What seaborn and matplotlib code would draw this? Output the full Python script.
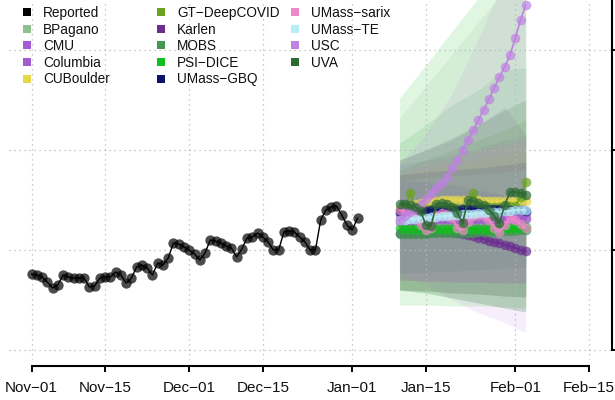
import numpy as np
import pandas as pd
import matplotlib
matplotlib.use("Agg")
import matplotlib.pyplot as plt
import matplotlib.dates as mdates
from matplotlib.lines import Line2D
import seaborn as sns

sns.set_theme(style="white")
plt.rcParams["font.family"] = ["Liberation Sans", "DejaVu Sans"]

# ---------------- data ----------------
reported = [76, 75, 73, 68, 62, 65, 75, 73, 72, 72,
            72, 63, 64, 72, 73, 73, 78, 75, 67, 72,
            83, 85, 82, 75, 87, 85, 92, 107, 106, 103,
            100, 96, 90, 97, 110, 109, 107, 104, 102, 93,
            101, 112, 113, 117, 113, 108, 100, 100, 118, 119,
            118, 113, 108, 100, 100, 130, 140, 143, 144, 135,
            125, 120, 132]
reported_start = "2020-11-01"
forecast_start = "2021-01-10"
band_days = ["2021-01-10", "2021-01-15", "2021-01-20", "2021-01-25", "2021-01-30", "2021-02-03"]

models = ["BPagano", "CMU", "Columbia", "CUBoulder", "GT−DeepCOVID", "Karlen", "MOBS",
          "PSI−DICE", "UMass−GBQ", "UMass−sarix", "UMass−TE", "USC", "UVA"]
model_colors = ["#8fbf8f", "#a55bd6", "#a259d2", "#e5d84b", "#69a320", "#6b2d91", "#3f9a4f",
                "#10bf1d", "#0c1270", "#ee88c9", "#b7eef6", "#be82e1", "#2d6a33"]

med_bpagano = [132, 132, 132, 133, 133, 133, 133, 133, 133, 133, 133, 133, 133,
               133, 133, 133, 133, 133, 133, 133, 133, 133, 133, 133, 133]
med_cmu = [136, 136, 136, 136, 136, 136, 137, 137, 137, 137, 137, 137, 137,
           137, 137, 137, 137, 137, 137, 137, 137, 137, 137, 137, 137]
med_columbia = [128, 129, 129, 130, 130, 130, 131, 131, 131, 131, 131, 131, 131,
                131, 131, 131, 131, 131, 131, 131, 131, 131, 131, 131, 131]
med_cuboulder = [140, 142, 144, 146, 147, 148, 149, 149, 150, 150, 150, 150, 150,
                 150, 150, 150, 149, 149, 149, 149, 149, 149, 149, 149, 149]
med_gt = [141, 142, 157, 142, 141, 141, 141, 142, 142, 142, 142, 142, 142,
          142, 157, 143, 143, 143, 143, 143, 143, 144, 144, 153, 168]
med_karlen = [117, 117, 117, 117, 117, 117, 118, 118, 118, 118, 118, 117, 116,
              115, 114, 112, 111, 109, 108, 107, 105, 104, 102, 100, 99]
med_mobs = [116, 116, 116, 116, 116, 116, 117, 117, 117, 117, 117, 117, 117,
            117, 117, 118, 118, 118, 118, 118, 119, 119, 119, 120, 120]
med_psi = [122, 121, 121, 121, 121, 121, 121, 121, 121, 121, 121, 121, 121,
           121, 121, 121, 121, 121, 121, 121, 122, 122, 122, 122, 123]
med_gbq = [138, 138, 139, 139, 139, 139, 140, 140, 140, 140, 140, 140, 141,
           141, 141, 141, 141, 141, 141, 141, 140, 140, 140, 140, 139]
med_sarix = [140, 138, 136, 134, 125, 120, 122, 135, 137, 136, 132, 122, 120,
             128, 134, 135, 134, 130, 122, 118, 125, 132, 130, 126, 122]
med_te = [130, 130, 131, 131, 132, 132, 133, 133, 134, 134, 135, 135, 136,
          136, 136, 137, 137, 138, 138, 138, 139, 139, 140, 140, 140]
med_usc = [130, 134, 138, 142, 146, 151, 156, 162, 167, 173, 182, 190, 200,
           210, 220, 230, 240, 251, 262, 273, 283, 295, 312, 330, 345]
med_uva = [146, 146, 145, 143, 139, 125, 124, 146, 147, 146, 143, 137, 127,
           150, 149, 147, 145, 140, 134, 127, 145, 158, 158, 157, 155]

lo_bpagano = [60, 59, 57, 56, 54, 53];    hi_bpagano = [232, 264, 296, 328, 360, 385]
lo_cmu = [70, 69, 68, 68, 67, 67];        hi_cmu = [190, 200, 210, 225, 243, 215]
lo_columbia = [70, 69, 68, 68, 67, 67];   hi_columbia = [185, 190, 195, 202, 210, 215]
lo_cuboulder = [77, 78, 79, 80, 82, 83];  hi_cuboulder = [175, 180, 185, 190, 195, 200]
lo_gt = [60, 59, 57, 56, 54, 53];         hi_gt = [180, 190, 200, 210, 220, 230]
lo_karlen = [60, 59, 57, 56, 54, 53];     hi_karlen = [170, 168, 165, 160, 155, 150]
lo_mobs = [60, 57, 52, 47, 42, 38];       hi_mobs = [207, 225, 245, 260, 280, 282]
lo_psi = [45, 45, 44, 44, 43, 42];        hi_psi = [252, 285, 319, 352, 385, 412]
lo_gbq = [77, 78, 79, 80, 82, 83];        hi_gbq = [175, 178, 180, 182, 185, 188]
lo_sarix = [70, 69, 68, 68, 67, 67];      hi_sarix = [178, 185, 192, 200, 205, 210]
lo_te = [77, 78, 79, 80, 82, 83];         hi_te = [170, 172, 174, 176, 178, 180]
lo_usc = [77, 65, 50, 37, 27, 17];        hi_usc = [185, 215, 255, 310, 370, 430]
lo_uva = [60, 57, 52, 47, 42, 38];        hi_uva = [190, 200, 212, 225, 240, 250]

y_ticks = [0, 100, 200, 300]
x_tick_dates = ["2020-11-01", "2020-11-15", "2020-12-01", "2020-12-15",
                "2021-01-01", "2021-01-15", "2021-02-01", "2021-02-15"]
x_tick_labels = ["Nov−01", "Nov−15", "Dec−01", "Dec−15", "Jan−01", "Jan−15", "Feb−01", "Feb−15"]

medians = [med_bpagano, med_cmu, med_columbia, med_cuboulder, med_gt, med_karlen, med_mobs,
           med_psi, med_gbq, med_sarix, med_te, med_usc, med_uva]
lowers = [lo_bpagano, lo_cmu, lo_columbia, lo_cuboulder, lo_gt, lo_karlen, lo_mobs,
          lo_psi, lo_gbq, lo_sarix, lo_te, lo_usc, lo_uva]
uppers = [hi_bpagano, hi_cmu, hi_columbia, hi_cuboulder, hi_gt, hi_karlen, hi_mobs,
          hi_psi, hi_gbq, hi_sarix, hi_te, hi_usc, hi_uva]

# ---------------- figure ----------------
W, H = 615, 400
fig = plt.figure(figsize=(W / 100, H / 100), dpi=100)
ax = fig.add_axes([9 / W, 40 / H, (612 - 9) / W, 360 / H])

rep_dates = pd.date_range(reported_start, periods=len(reported), freq="D")
fc_dates = pd.date_range(forecast_start, periods=len(med_usc), freq="D")
bdates = pd.to_datetime(band_days)

# bands
for lo, hi, col in zip(lowers, uppers, model_colors):
    ax.fill_between(bdates, lo, hi, color=col, alpha=0.13, linewidth=0, zorder=1)

# reported
rep_df = pd.DataFrame({"date": rep_dates, "value": reported})
sns.lineplot(data=rep_df, x="date", y="value", color="black", lw=1.0, ax=ax, zorder=3)
sns.scatterplot(data=rep_df, x="date", y="value", color="black", s=55, alpha=0.7,
                linewidth=0, ax=ax, zorder=3)

# forecast medians
for name, med, col in zip(models, medians, model_colors):
    df = pd.DataFrame({"date": fc_dates, "value": med})
    sns.lineplot(data=df, x="date", y="value", color=col, lw=1.2, ax=ax, zorder=3)
    sns.scatterplot(data=df, x="date", y="value", color=col, s=48, alpha=0.7,
                    linewidth=0, ax=ax, zorder=3)

# axes limits
x0 = pd.Timestamp(reported_start)
ax.set_xlim(mdates.date2num(x0 - pd.Timedelta(days=4.28)),
            mdates.date2num(x0 + pd.Timedelta(days=110.4)))
ax.set_ylim(-10, 350)
ax.set_xlabel("")
ax.set_ylabel("")

# ticks
tick_nums = [mdates.date2num(pd.Timestamp(d)) for d in x_tick_dates]
ax.set_xticks(tick_nums)
ax.set_xticklabels(x_tick_labels, fontsize=11, color="#111111")
ax.set_yticks(y_ticks)
ax.yaxis.tick_right()
ax.tick_params(axis="x", bottom=True, direction="out", length=4.5, width=1.4,
               pad=6.5, colors="black", labelcolor="#111111")
ax.tick_params(axis="y", right=True, left=False, labelright=False, labelleft=False,
               direction="out", length=4, width=1.4, colors="black")

# spines
for s in ["top", "left"]:
    ax.spines[s].set_visible(False)
ax.spines["bottom"].set_position(("outward", 4))
ax.spines["bottom"].set_bounds(tick_nums[0], tick_nums[-1])
ax.spines["bottom"].set_linewidth(1.5)
ax.spines["bottom"].set_color("black")
ax.spines["right"].set_bounds(0, 350)
ax.spines["right"].set_linewidth(1.5)
ax.spines["right"].set_color("black")

# grid
ax.set_axisbelow("line")
ax.grid(True, linestyle=(0, (1, 3)), color="#b8b8b8", linewidth=0.9)

# legends (three columns)
labels = ["Reported"] + models
colors = ["black"] + model_colors
handles = [Line2D([], [], linestyle="none", marker="s", markersize=6.2,
                  markerfacecolor=c, markeredgewidth=0) for c in colors]
col_x = [20.5, 154.5, 288.5]
groups = [(0, 5), (5, 10), (10, 14)]
for (a, b), cx in zip(groups, col_x):
    leg = fig.legend(handles[a:b], labels[a:b], loc="upper left",
                     bbox_to_anchor=(cx / W, (H - 6) / H), frameon=False,
                     fontsize=9.8, handlelength=1.0, handletextpad=0.65,
                     labelspacing=0.19, borderpad=0, borderaxespad=0)
    for t in leg.get_texts():
        t.set_color("#111111")

fig.savefig("out.png", dpi=100)
